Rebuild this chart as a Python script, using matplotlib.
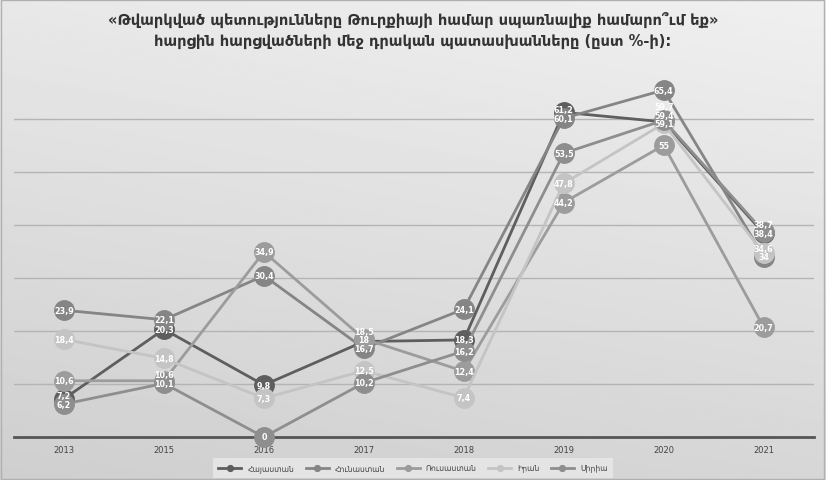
import numpy as np
import matplotlib.pyplot as plt

years = ['2013', '2015', '2016', '2017', '2018', '2019', '2020', '2021']

armenia = [7.2, 20.3, 9.8, 18.0, 18.3, 61.2, 59.4, 38.4]
greece = [23.9, 22.1, 30.4, 16.7, 24.1, 60.1, 65.4, 34.0]
russia = [10.6, 10.6, 34.9, 18.5, 12.4, 44.2, 55.0, 20.7]
iran = [18.4, 14.8, 7.3, 12.5, 7.4, 47.8, 59.1, 34.6]
syria = [6.2, 10.1, 0.0, 10.2, 16.2, 53.5, 59.7, 38.7]

names = ['Հայաստան', 'Հունաստան', 'Ռուսաստան', 'Իրան', 'Սիրիա']
series = [armenia, greece, russia, iran, syria]
colors = ['#5e5e5e', '#858585', '#9c9c9c', '#c4c4c4', '#8e8e8e']

title = ('«Թվարկված պետությունները Թուրքիայի համար սպառնալիք համարո՞ւմ եք»\n'
         'հարցին հարցվածների մեջ դրական պատասխանները (ըստ %-ի):')

fig = plt.figure(figsize=(8.26, 4.81), dpi=100)

# background gradient
bg = fig.add_axes([0, 0, 1, 1], zorder=-10)
yy, xx = np.mgrid[0:1:200j, 0:1:300j]
grad = 0.94 - 0.10 * yy - 0.03 * (1 - xx)
bg.imshow(grad, cmap='gray', vmin=0, vmax=1, aspect='auto', extent=[0, 1, 0, 1], origin='upper')
bg.set_xlim(0, 1)
bg.set_ylim(0, 1)
bg.axis('off')
bg.add_patch(plt.Rectangle((0.001, 0.002), 0.997, 0.995, fill=False, ec='#b0b0b0', lw=1))

ax = fig.add_axes([0.017, 0.0894, 0.968, 0.772])
ax.patch.set_alpha(0)
x = np.arange(len(years))

for vals, name, c in zip(series, names, colors):
    ax.plot(x, vals, color=c, lw=2, marker='o', ms=14, mfc=c, mec=c,
            label=name, clip_on=False, zorder=3)

# data labels, nudged apart where points sit on top of each other
for i in x:
    col = sorted([(s[i], k) for k, s in enumerate(series)])
    pos = [v for v, k in col]
    for j in range(1, len(pos)):
        if pos[j] - pos[j - 1] < 1.6:
            pos[j] = pos[j - 1] + 1.6
    for (v, k), p in zip(col, pos):
        lab = ('%g' % v).replace('.', ',')
        ax.text(i, p, lab, color='white', fontsize=5.8, fontweight='bold',
                ha='center', va='center', zorder=4)

ax.set_xlim(-0.5, len(years) - 0.5)
ax.set_ylim(0, 70)
ax.set_yticks(np.arange(10, 70, 10))
ax.yaxis.grid(True, color='#b4b4b4', lw=1)
ax.set_yticklabels([])
ax.tick_params(axis='y', length=0)
ax.set_xticks(x)
ax.set_xticklabels(years, fontsize=6, color='#444444')
ax.tick_params(axis='x', length=0, pad=6)
for s in ['top', 'right', 'left']:
    ax.spines[s].set_visible(False)
ax.spines['bottom'].set_color('#555555')
ax.spines['bottom'].set_linewidth(2)
ax.set_axisbelow(True)

fig.text(0.5, 0.975, title, ha='center', va='top', fontsize=10.5,
         fontweight='bold', color='#333333', linespacing=1.45)

leg = fig.legend(loc='lower center', bbox_to_anchor=(0.5, 0.0), ncol=5,
                 fontsize=5.5, frameon=True, markerscale=0.3, handlelength=3,
                 columnspacing=1.5, borderpad=0.5)
leg.get_frame().set_facecolor('#e9e9e9')
leg.get_frame().set_edgecolor('none')
leg.get_frame().set_boxstyle('square', pad=0.2)
for t in leg.get_texts():
    t.set_color('#444444')

fig.savefig('out.png', dpi=100)
